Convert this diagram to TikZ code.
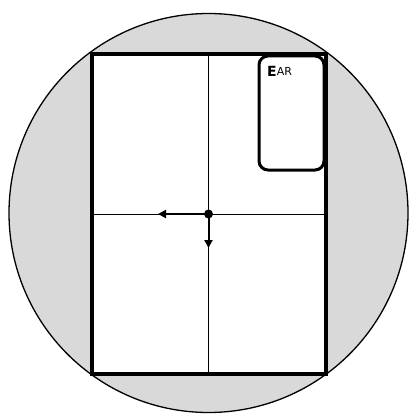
\documentclass[tikz,border=0pt]{standalone}
\usepackage{fontspec}
\newfontfamily\earfont{DejaVu Sans}
\usetikzlibrary{arrows.meta}
\tikzset{
  frame/.style={line width=4pt},
  grid/.style={line width=0.9pt},
  vec/.style={line width=2pt,-{Triangle[length=8pt,width=8pt]}},
  earbox/.style={draw,line width=3pt,rounded corners=9pt}
}
\begin{document}
\begin{tikzpicture}[x=1pt,y=-1pt]
\useasboundingbox (0,0) rectangle (411,414);
\node[circle,draw,line width=1.3pt,fill=black!15,minimum size=399pt,inner sep=0pt] (disk) at (208.5,213) {};
\fill[white] (92,54) rectangle (326,374);
\draw[grid] (208.5,54) -- (208.5,374);
\draw[grid] (92,214) -- (326,214);
\draw[earbox,fill=white] (259,56) rectangle (324,170);
\node[anchor=base west,inner sep=0pt] (ear) at (267,77) {\earfont\bfseries{\fontsize{14}{14}\selectfont E}\raisebox{1.5pt}{\fontsize{11}{11}\mdseries\selectfont AR}};
\draw[frame] (92,54) rectangle (326,374);
\node[circle,fill=black,inner sep=0pt,minimum size=9pt] (o) at (208.5,214) {};
\coordinate (l) at (158,214);
\coordinate (d) at (208.5,248);
\draw[vec] (o.center) -- (l);
\draw[vec] (o.center) -- (d);
\end{tikzpicture}
\end{document}
